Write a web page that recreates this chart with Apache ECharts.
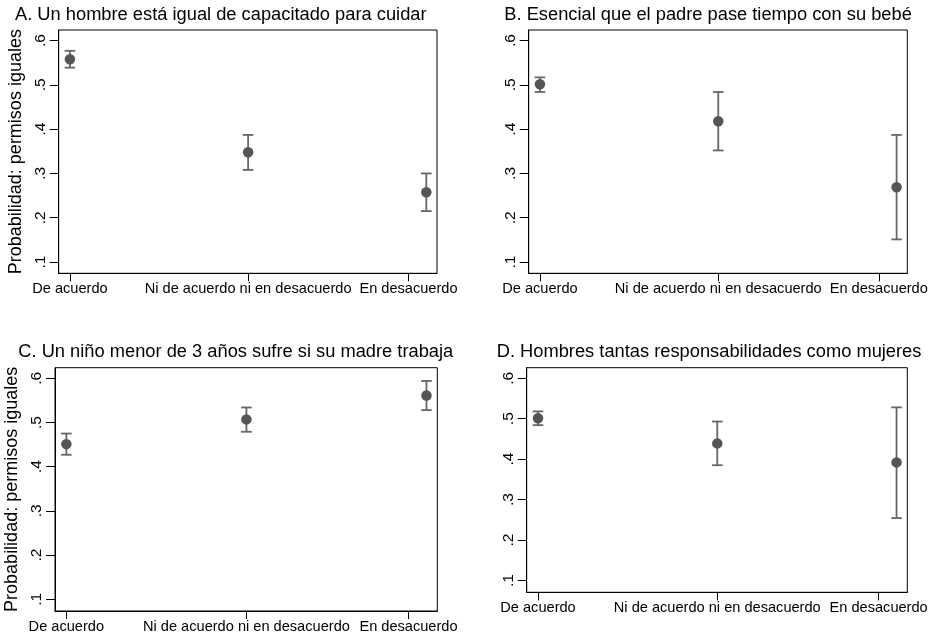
<!DOCTYPE html>
<html>
<head>
<meta charset="utf-8">
<script src="https://cdn.jsdelivr.net/npm/echarts@6/dist/echarts.min.js"></script>
<style>html,body{margin:0;padding:0;background:#fff}#c{width:931px;height:636px}</style>
</head>
<body>
<div id="c"></div>
<script>
// ---- data ----
var categories = ['De acuerdo', 'Ni de acuerdo ni en desacuerdo', 'En desacuerdo'];
var pointX = [1, 2, 3];
var tickX = [1, 2, 2.9];
var yTicks = [0.1, 0.2, 0.3, 0.4, 0.5, 0.6];
var panelTitles = [
  'A. Un hombre está igual de capacitado para cuidar',
  'B. Esencial que el padre pase tiempo con su bebé',
  'C. Un niño menor de 3 años sufre si su madre trabaja',
  'D. Hombres tantas responsabilidades como mujeres'
];
var yTitle = 'Probabilidad: permisos iguales';
var estA = [0.558, 0.348, 0.2575];
var loA  = [0.539, 0.308, 0.215];
var hiA  = [0.577, 0.387, 0.300];
var estB = [0.5015, 0.418, 0.269];
var loB  = [0.484, 0.352, 0.151];
var hiB  = [0.517, 0.484, 0.387];
var estC = [0.451, 0.507, 0.561];
var loC  = [0.427, 0.479, 0.528];
var hiC  = [0.475, 0.534, 0.594];
var estD = [0.501, 0.439, 0.392];
var loD  = [0.484, 0.385, 0.2545];
var hiD  = [0.518, 0.493, 0.528];

var panels = [
  {est: estA, lo: loA, hi: hiA},
  {est: estB, lo: loB, hi: hiB},
  {est: estC, lo: loC, hi: hiC},
  {est: estD, lo: loD, hi: hiD}
];

// ---- layout ----
var FONT = '"Liberation Sans", Arial, Helvetica, sans-serif';
var grids = [
  {left: 58.7, top: 30, width: 378.3, height: 243.3},
  {left: 528.7, top: 30, width: 378.6, height: 243.3},
  {left: 55, top: 367.7, width: 382.3, height: 243.3},
  {left: 526.7, top: 367.7, width: 380.6, height: 224.6}
];
var titlePos = [
  {left: 15, top: 6},
  {left: 504.3, top: 6},
  {left: 18.3, top: 343.4},
  {left: 496.7, top: 343.4}
];
var yRange = [
  {min: 0.0745, max: 0.624},
  {min: 0.0745, max: 0.624},
  {min: 0.0735, max: 0.624},
  {min: 0.071, max: 0.626}
];

function fmtY(v) { return v.toFixed(1).replace(/^0/, ''); }
function fmtX(v) {
  var best = 0, d = 1e9;
  for (var i = 0; i < tickX.length; i++) {
    var dd = Math.abs(tickX[i] - v);
    if (dd < d) { d = dd; best = i; }
  }
  return categories[best];
}

var option = {
  animation: false,
  backgroundColor: '#fff',
  title: [], grid: [], xAxis: [], yAxis: [], series: []
};

panels.forEach(function (p, i) {
  option.title.push({
    text: panelTitles[i], left: titlePos[i].left, top: titlePos[i].top, padding: 0,
    textStyle: {fontFamily: FONT, fontSize: 18.3, fontWeight: 'normal', color: '#000', lineHeight: 18}
  });
  option.grid.push({
    left: grids[i].left, top: grids[i].top, width: grids[i].width, height: grids[i].height,
    show: true, borderColor: '#000', borderWidth: 1, backgroundColor: '#fff'
  });
  option.xAxis.push({
    type: 'value', gridIndex: i, min: 0.937, max: 3.06,
    splitLine: {show: false},
    axisLine: {show: true, onZero: false, lineStyle: {color: '#000', width: 1}},
    axisTick: {show: true, customValues: tickX, length: 8, lineStyle: {color: '#000', width: 1}},
    axisLabel: {customValues: tickX, formatter: fmtX, margin: 8, color: '#000',
      fontFamily: FONT, fontSize: 14.6}
  });
  option.yAxis.push({
    type: 'value', gridIndex: i, min: yRange[i].min, max: yRange[i].max,
    name: (i % 2 === 0) ? yTitle : '',
    nameLocation: 'middle', nameGap: 34,
    nameTextStyle: {fontFamily: FONT, fontSize: 18, color: '#000'},
    splitLine: {show: false},
    axisLine: {show: true, onZero: false, lineStyle: {color: '#000', width: 1}},
    axisTick: {show: true, customValues: yTicks, length: 9, lineStyle: {color: '#000', width: 1}},
    axisLabel: {customValues: yTicks, formatter: fmtY, rotate: 90, margin: 10, color: '#000',
      fontFamily: FONT, fontSize: 15.5}
  });
  var ciData = pointX.map(function (x, k) { return [x, p.lo[k], p.hi[k]]; });
  option.series.push({
    type: 'custom', xAxisIndex: i, yAxisIndex: i, data: ciData,
    renderItem: function (params, api) {
      var lo = api.coord([api.value(0), api.value(1)]);
      var hi = api.coord([api.value(0), api.value(2)]);
      var hw = 5.3;
      var st = {stroke: '#666', lineWidth: 1.8, fill: null};
      return {type: 'group', children: [
        {type: 'line', shape: {x1: lo[0], y1: lo[1], x2: hi[0], y2: hi[1]}, style: st},
        {type: 'line', shape: {x1: lo[0] - hw, y1: lo[1], x2: lo[0] + hw, y2: lo[1]}, style: st},
        {type: 'line', shape: {x1: hi[0] - hw, y1: hi[1], x2: hi[0] + hw, y2: hi[1]}, style: st}
      ]};
    },
    z: 2
  });
  option.series.push({
    type: 'scatter', xAxisIndex: i, yAxisIndex: i,
    data: pointX.map(function (x, k) { return [x, p.est[k]]; }),
    symbol: 'circle', symbolSize: 10.5,
    itemStyle: {color: '#555', opacity: 1},
    z: 3
  });
});

var chart = echarts.init(document.getElementById('c'), null, {renderer: 'canvas'});
chart.setOption(option);
</script>
</body>
</html>
